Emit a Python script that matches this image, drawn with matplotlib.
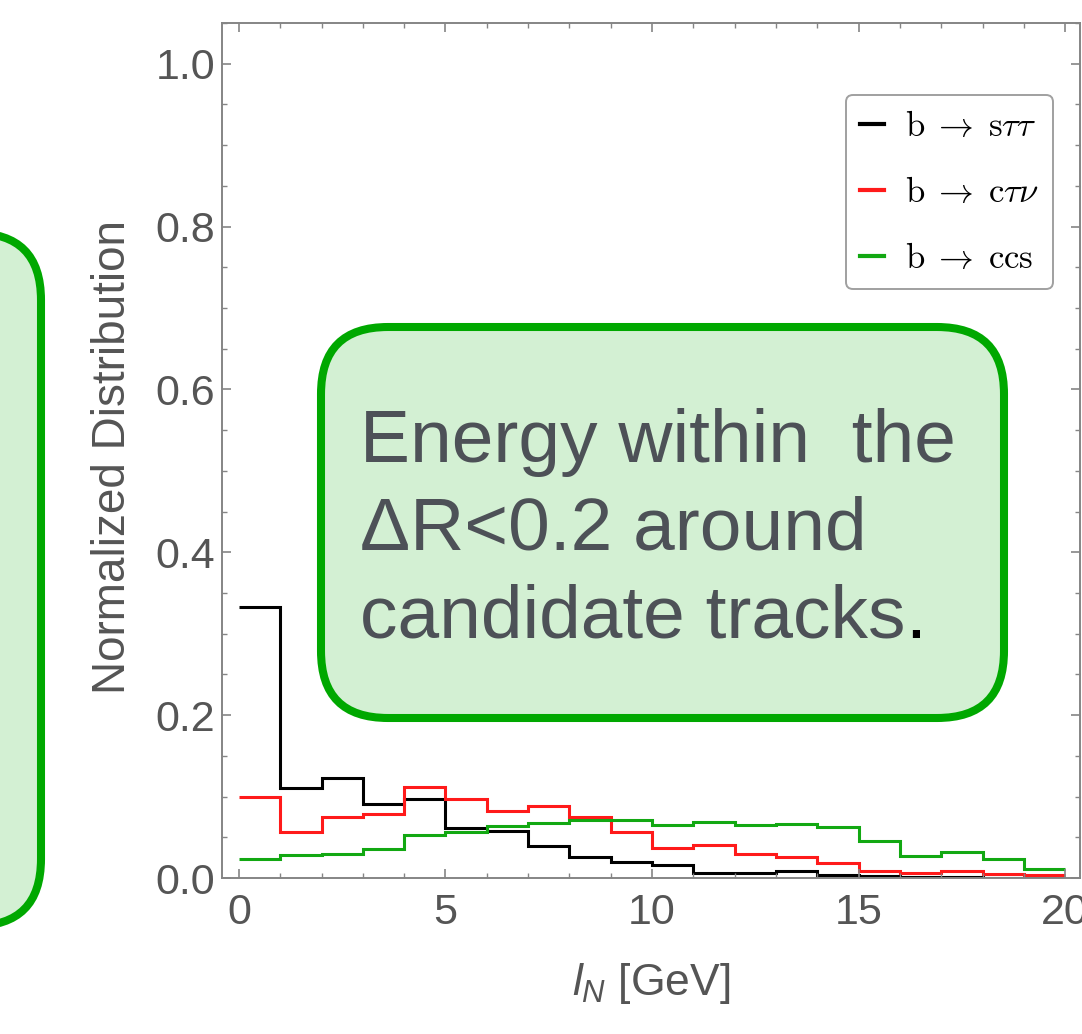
import matplotlib
matplotlib.use("Agg")
import matplotlib.pyplot as plt
import numpy as np
from matplotlib.patches import FancyBboxPatch
from matplotlib.transforms import Affine2D
from matplotlib.font_manager import FontProperties
from matplotlib.ticker import MultipleLocator

plt.rcParams['font.family'] = ['Liberation Sans', 'DejaVu Sans']
plt.rcParams['mathtext.fontset'] = 'custom'
plt.rcParams['mathtext.it'] = 'Liberation Sans:italic'
plt.rcParams['mathtext.rm'] = 'Liberation Sans'

# ---- data ----
bin_edges = list(range(0, 21))
b_s_tautau = [0.333, 0.111, 0.123, 0.091, 0.097, 0.062, 0.058, 0.039, 0.026, 0.020,
              0.016, 0.0065, 0.006, 0.008, 0.004, 0.002, 0.0012, 0.001, 0.0006, 0.0003]
b_c_taunu = [0.099, 0.057, 0.075, 0.079, 0.112, 0.0965, 0.082, 0.088, 0.075, 0.056,
             0.037, 0.040, 0.030, 0.026, 0.018, 0.0085, 0.0065, 0.0085, 0.005, 0.0035]
b_ccs = [0.0228, 0.028, 0.030, 0.036, 0.053, 0.057, 0.064, 0.068, 0.071, 0.0707,
         0.065, 0.0686, 0.0646, 0.0667, 0.0625, 0.046, 0.027, 0.032, 0.023, 0.0114]
series_labels = [r'$\mathrm{b}\;\rightarrow\;\mathrm{s}\tau\tau$',
                 r'$\mathrm{b}\;\rightarrow\;\mathrm{c}\tau\nu$',
                 r'$\mathrm{b}\;\rightarrow\;\mathrm{ccs}$']
box_lines = ["Energy within  the", "\u0394R<0.2 around", "candidate tracks"]

W, H = 1082, 1034
fig = plt.figure(figsize=(W / 100, H / 100), dpi=100)
ax = fig.add_axes([222 / W, (H - 878) / H, (1080 - 222) / W, (878 - 23) / H])

colors = ['#000000', '#ff1a1a', '#12a812']
for vals, lab, c in zip([b_s_tautau, b_c_taunu, b_ccs], series_labels, colors):
    ax.stairs(vals, bin_edges, color=c, lw=2.2, label=lab, baseline=None)

ax.set_xlim(-0.41, 20.36)
ax.set_ylim(0, 1.05)
ax.xaxis.set_major_locator(MultipleLocator(5))
ax.xaxis.set_minor_locator(MultipleLocator(1))
ax.yaxis.set_major_locator(MultipleLocator(0.2))
ax.yaxis.set_minor_locator(MultipleLocator(0.05))
ax.yaxis.set_major_formatter(matplotlib.ticker.FormatStrFormatter('%.1f'))

spine_c = '#858585'
for s in ax.spines.values():
    s.set_color(spine_c)
    s.set_linewidth(1.4)
ax.tick_params(which='both', direction='in', top=True, right=True, color=spine_c,
               labelcolor='#555555', labelsize=31)
ax.tick_params(which='major', length=6.5, width=1.2)
ax.tick_params(which='minor', length=3.6, width=1.0)
ax.tick_params(axis='x', which='major', pad=11)
ax.tick_params(axis='y', which='major', pad=5)

ax.set_xlabel(r'$l_N$ [GeV]', fontsize=32, color='#555555', labelpad=20)
ax.set_ylabel('Normalized Distribution', fontsize=33, color='#555555')
ax.yaxis.label.set_va('center')
ax.yaxis.set_label_coords((113 - 222) / 858, (878 - 457) / 855)

leg_prop = FontProperties(family='DejaVu Serif', size=25, math_fontfamily='cm')
leg = ax.legend(loc='upper right', bbox_to_anchor=((1053 - 222) / 858, (878 - 95) / 855),
                prop=leg_prop, frameon=True, fancybox=True, edgecolor='#a0a0a0',
                framealpha=1, handlelength=0.7, handletextpad=0.6, labelspacing=0.92,
                borderpad=0.4, borderaxespad=0)
leg.get_frame().set_linewidth(1.4)
for h in leg.get_lines():
    h.set_linewidth(3)

# annotation boxes in pixel coordinates
px = Affine2D().scale(1 / W, 1 / H) + fig.transFigure
box_face = '#d3f0d3'
box_edge = '#00a800'
r = 67
b1 = FancyBboxPatch((321, H - 718), 1004 - 321, 718 - 327,
                    boxstyle=f"round,pad=0,rounding_size={r}", transform=px,
                    facecolor=box_face, edgecolor=box_edge, lw=5.8, zorder=5,
                    clip_on=False)
fig.patches.append(b1)
b2 = FancyBboxPatch((-700, H - 926), 741, 926 - 233,
                    boxstyle=f"round,pad=0,rounding_size={r}", transform=px,
                    facecolor=box_face, edgecolor=box_edge, lw=5.8, zorder=5,
                    clip_on=False)
fig.patches.append(b2)

txt_c = '#4d5157'
baselines = [462, 550, 638]
texts = []
for line, yb in zip(box_lines, baselines):
    t = fig.text(360 / W, (H - yb) / H, line, fontsize=54, color=txt_c,
                 ha='left', va='baseline', zorder=6)
    texts.append(t)
fig.canvas.draw()
bb = texts[-1].get_window_extent()
fig.text(bb.x1 / W, (H - baselines[-1]) / H, '.', fontsize=54, color='black',
         ha='left', va='baseline', zorder=6)

fig.savefig('out.png', dpi=100)
